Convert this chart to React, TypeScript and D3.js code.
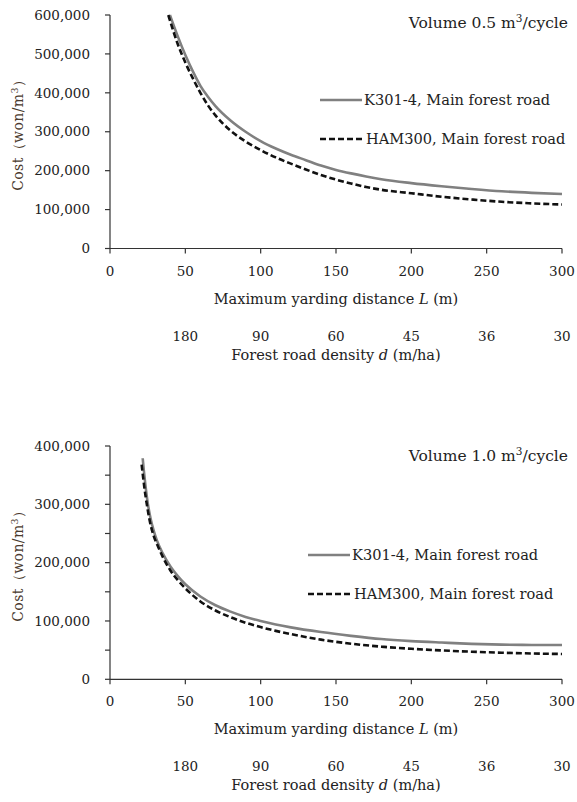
import React from "react";
import * as d3 from "d3";

// Maximum yarding distance L (m) and unit cost (won/m³), volume 0.5 m³/cycle
const distTopK301 = [39.8, 45, 50, 55, 60, 65, 70, 80, 90, 100, 110, 120, 130, 140, 150, 160, 170, 180, 200, 220, 240, 260, 280, 300];
const costTopK301 = [600000, 545000, 497000, 455000, 418000, 390000, 366000, 329000, 300000, 276000, 257000, 241000, 227000, 213000, 202000, 193000, 185000, 178000, 168000, 160000, 153000, 147000, 143000, 140000];
const distTopHAM = [38.7, 45, 50, 55, 60, 65, 70, 80, 90, 100, 110, 120, 130, 140, 150, 160, 170, 180, 200, 220, 240, 260, 280, 300];
const costTopHAM = [600000, 525000, 478000, 437000, 400000, 368000, 342000, 303000, 275000, 253000, 234000, 218000, 203000, 189000, 177000, 167000, 158000, 151000, 142000, 133000, 126000, 120000, 116000, 113000];

// Volume 1.0 m³/cycle
const distBotK301 = [21.7, 22.5, 23.5, 25, 27, 29, 31, 35, 40, 45, 50, 60, 70, 80, 90, 100, 110, 120, 140, 160, 180, 200, 220, 240, 260, 280, 300];
const costBotK301 = [379000, 357000, 333000, 303000, 275000, 255000, 239000, 216000, 194000, 177000, 163000, 142000, 127000, 116000, 107000, 100000, 94000, 89000, 81000, 74500, 69000, 65500, 63000, 60800, 59500, 58900, 58700];
const distBotHAM = [21, 22, 23, 24.5, 26.5, 29, 32, 35, 40, 45, 50, 60, 70, 80, 90, 100, 110, 120, 140, 160, 180, 200, 220, 240, 260, 280, 300];
const costBotHAM = [368000, 346000, 325000, 299000, 270000, 246000, 227000, 210000, 187000, 170000, 156000, 133500, 118000, 106500, 97000, 89500, 83000, 77500, 68000, 61000, 56000, 52300, 49500, 47300, 45600, 44300, 43400];

// Axis ticks
const xTicks = [0, 50, 100, 150, 200, 250, 300];
const densityTicks = [50, 100, 150, 200, 250, 300];
const densityLabels = ["180", "90", "60", "45", "36", "30"];
const yTicksTop = [0, 100000, 200000, 300000, 400000, 500000, 600000];
const yTicksBotMajor = [0, 100000, 200000, 300000, 400000];
const yTicksBotMinor = [50000, 150000, 250000, 350000];

const seriesNames = ["K301-4, Main forest road", "HAM300, Main forest road"];
const titles = ["Volume 0.5 m", "Volume 1.0 m"];

const FONT = "'DejaVu Serif', serif";
const TEXT = "#222";
const fmt = d3.format(",");

type Panel = {
  id: string;
  title: string;
  yMax: number;
  yTop: number;
  yBottom: number;
  majors: number[];
  minors: number[];
  k301: [number, number][];
  ham: [number, number][];
  legendX: number;
  legendY: number;
  titleY: number;
};

const zip = (xs: number[], ys: number[]): [number, number][] => xs.map((x, i) => [x, ys[i]]);

const panels: Panel[] = [
  {
    id: "top",
    title: titles[0],
    yMax: 600000,
    yTop: 15,
    yBottom: 248.5,
    majors: yTicksTop,
    minors: [],
    k301: zip(distTopK301, costTopK301),
    ham: zip(distTopHAM, costTopHAM),
    legendX: 320,
    legendY: 100,
    titleY: 28,
  },
  {
    id: "bottom",
    title: titles[1],
    yMax: 400000,
    yTop: 446,
    yBottom: 679.3,
    majors: yTicksBotMajor,
    minors: yTicksBotMinor,
    k301: zip(distBotK301, costBotK301),
    ham: zip(distBotHAM, costBotHAM),
    legendX: 308,
    legendY: 555,
    titleY: 461,
  },
];

const x = d3.scaleLinear().domain([0, 300]).range([110, 562]);

function ChartPanel({ p }: { p: Panel }) {
  const y = d3.scaleLinear().domain([0, p.yMax]).range([p.yBottom, p.yTop]);
  const line = d3
    .line<[number, number]>()
    .x((d) => x(d[0]))
    .y((d) => y(d[1]))
    .curve(d3.curveMonotoneX);
  const x0 = x(0);
  const x1 = x(300);
  const axisY = y(0);
  const clipId = `clip-${p.id}`;
  return (
    <g>
      <defs>
        <clipPath id={clipId}>
          <rect x={x0} y={p.yTop - 1} width={x1 - x0 + 4} height={axisY - p.yTop + 1} />
        </clipPath>
      </defs>
      {/* y axis */}
      <line x1={x0} x2={x0} y1={p.yTop} y2={axisY} stroke="#333" strokeWidth={1.2} />
      {[...p.majors, ...p.minors].map((t) => (
        <line key={`yt${t}`} x1={x0 - 5} x2={x0} y1={y(t)} y2={y(t)} stroke="#333" strokeWidth={1.2} />
      ))}
      {p.majors.map((t) => (
        <text
          key={`yl${t}`}
          x={90}
          y={y(t)}
          dy="0.35em"
          textAnchor="end"
          fontFamily={FONT}
          fontSize={13.5}
          fill={TEXT}
        >
          {fmt(t)}
        </text>
      ))}
      <text
        transform={`translate(23,${(p.yTop + axisY) / 2}) rotate(-90)`}
        textAnchor="middle"
        fontFamily={FONT}
        fontSize={14}
        letterSpacing={0.4}
        fill="#4a3a2e"
      >
        Cost（won/m<tspan dy="-5" fontSize={9.5}>3</tspan>
        <tspan dy="5">）</tspan>
      </text>
      {/* x axis */}
      <line x1={x0} x2={x1} y1={axisY} y2={axisY} stroke="#333" strokeWidth={1.2} />
      {xTicks.map((t) => (
        <line key={`xt${t}`} x1={x(t)} x2={x(t)} y1={axisY} y2={axisY + 5} stroke="#333" strokeWidth={1.2} />
      ))}
      {xTicks.map((t) => (
        <text
          key={`xl${t}`}
          x={x(t)}
          y={axisY + 27}
          textAnchor="middle"
          fontFamily={FONT}
          fontSize={13.5}
          fill={TEXT}
        >
          {t}
        </text>
      ))}
      <text x={x(150)} y={axisY + 55} textAnchor="middle" fontFamily={FONT} fontSize={14.5} fill={TEXT}>
        Maximum yarding distance <tspan fontStyle="italic">L</tspan> (m)
      </text>
      {densityTicks.map((t, i) => (
        <text
          key={`dl${t}`}
          x={x(t)}
          y={axisY + 92}
          textAnchor="middle"
          fontFamily={FONT}
          fontSize={13.5}
          fill={TEXT}
        >
          {densityLabels[i]}
        </text>
      ))}
      <text x={x(150)} y={axisY + 111} textAnchor="middle" fontFamily={FONT} fontSize={14.5} fill={TEXT}>
        Forest road density <tspan fontStyle="italic">d</tspan> (m/ha)
      </text>
      {/* curves */}
      <g clipPath={`url(#${clipId})`}>
        <path d={line(p.k301) ?? ""} fill="none" stroke="#808080" strokeWidth={2.6} />
        <path d={line(p.ham) ?? ""} fill="none" stroke="#111" strokeWidth={2.6} strokeDasharray="6,3" />
      </g>
      {/* title */}
      <text x={568} y={p.titleY} textAnchor="end" fontFamily={FONT} fontSize={15.5} fill={TEXT}>
        {p.title}
        <tspan dy="-6" fontSize={10.5}>3</tspan>
        <tspan dy="6">/cycle</tspan>
      </text>
      {/* legend */}
      <line x1={p.legendX} x2={p.legendX + 42} y1={p.legendY} y2={p.legendY} stroke="#808080" strokeWidth={2.6} />
      <text x={p.legendX + 44} y={p.legendY} dy="0.35em" fontFamily={FONT} fontSize={14.6} fill={TEXT}>
        {seriesNames[0]}
      </text>
      <line
        x1={p.legendX}
        x2={p.legendX + 44}
        y1={p.legendY + 39}
        y2={p.legendY + 39}
        stroke="#111"
        strokeWidth={2.6}
        strokeDasharray="6,3"
      />
      <text x={p.legendX + 46} y={p.legendY + 39} dy="0.35em" fontFamily={FONT} fontSize={14.6} fill={TEXT}>
        {seriesNames[1]}
      </text>
    </g>
  );
}

export default function App() {
  return (
    <svg
      width={577}
      height={802}
      style={{ position: "absolute", left: 0, top: 0, background: "#fff" }}
    >
      {panels.map((p) => (
        <ChartPanel key={p.id} p={p} />
      ))}
    </svg>
  );
}
